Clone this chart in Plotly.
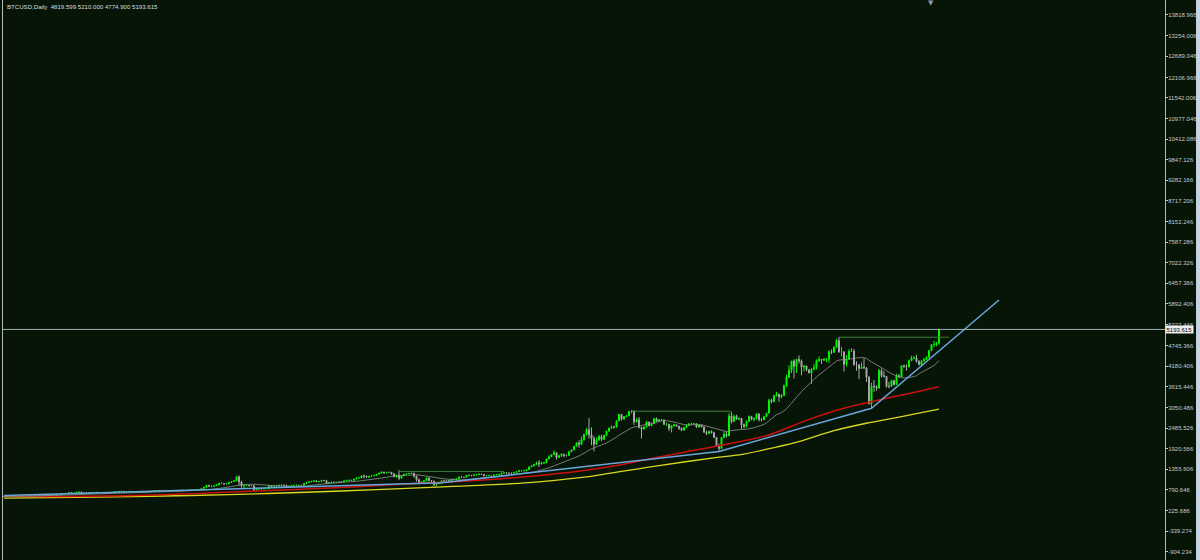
import pandas as pd
import plotly.graph_objects as go

# ---------------- data ----------------
SYMBOL = "BTCUSD,Daily"
START_DATE = "2016-10-03"
FIRST_OPEN = 610.0

C_2016_10 = [612, 609, 612, 612, 617, 619, 617, 618, 641, 637, 636, 638, 637, 641, 638, 637, 630, 629, 632, 657, 652, 652, 654, 678, 686, 689, 714, 699, 700]
H_2016_10 = [614, 613, 613, 613, 619, 621, 620, 620, 643, 642, 638, 641, 641, 642, 642, 639, 638, 632, 633, 660, 660, 655, 657, 680, 688, 690, 720, 716, 705]
L_2016_10 = [608, 607, 607, 609, 610, 616, 615, 616, 616, 632, 634, 634, 636, 636, 637, 635, 628, 626, 629, 631, 649, 648, 650, 652, 676, 682, 689, 694, 691]

C_2016_11 = [729, 734, 687, 704, 703, 712, 706, 710, 722, 715, 716, 705, 702, 706, 711, 744, 740, 751, 751, 731, 739, 751, 741, 735, 736, 728, 729, 734, 732, 742]
H_2016_11 = [737, 741, 743, 705, 707, 715, 713, 713, 740, 722, 719, 717, 706, 707, 715, 747, 750, 756, 756, 751, 740, 752, 751, 741, 740, 737, 734, 735, 737, 743]
L_2016_11 = [700, 726, 681, 686, 699, 698, 702, 702, 705, 708, 713, 704, 680, 699, 704, 711, 730, 739, 738, 727, 730, 737, 734, 732, 731, 722, 726, 726, 728, 729]

C_2016_12 = [754, 771, 765, 768, 759, 764, 768, 770, 772, 774, 769, 780, 780, 778, 775, 784, 790, 790, 792, 800, 834, 864, 921, 892, 891, 907, 933, 975, 973, 961, 963]
H_2016_12 = [758, 773, 773, 769, 768, 764, 770, 774, 772, 776, 774, 780, 789, 782, 779, 785, 791, 795, 793, 801, 834, 875, 923, 922, 899, 909, 939, 976, 977, 973, 964]
L_2016_12 = [742, 752, 763, 762, 754, 756, 764, 766, 768, 770, 766, 770, 775, 776, 773, 775, 784, 787, 788, 790, 799, 833, 864, 885, 862, 896, 905, 934, 966, 927, 946]

C_2017_01 = [998, 1021, 1043, 1154, 1013, 902, 908, 911, 902, 907, 785, 812, 826, 819, 822, 831, 907, 886, 899, 896, 923, 925, 921, 892, 895, 915, 919, 921, 914, 921, 970]
H_2017_01 = [1002, 1032, 1045, 1159, 1191, 1046, 909, 937, 913, 913, 912, 826, 834, 829, 823, 831, 909, 912, 904, 899, 927, 938, 924, 924, 898, 916, 923, 923, 922, 923, 970]
L_2017_01 = [956, 995, 1018, 1044, 910, 852, 825, 904, 895, 903, 774, 756, 805, 814, 817, 820, 830, 867, 884, 887, 896, 887, 915, 888, 890, 894, 907, 916, 911, 908, 921]

C_2017_02 = [989, 1011, 1029, 1042, 1015, 1025, 1051, 1047, 978, 996, 1006, 1001, 994, 1012, 1010, 1038, 1055, 1056, 1053, 1089, 1118, 1121, 1177, 1173, 1144, 1165, 1180, 1190]
H_2017_02 = [990, 1013, 1034, 1046, 1043, 1027, 1058, 1068, 1067, 1001, 1009, 1008, 1001, 1013, 1014, 1043, 1061, 1066, 1060, 1093, 1126, 1131, 1184, 1208, 1173, 1167, 1190, 1194]
L_2017_02 = [968, 985, 1008, 1016, 1009, 1015, 1024, 1030, 946, 950, 990, 998, 988, 993, 1003, 1010, 1035, 1050, 1045, 1049, 1089, 1113, 1123, 1111, 1129, 1122, 1165, 1170]

C_2017_03 = [1222, 1252, 1285, 1265, 1273, 1276, 1233, 1151, 1196, 1112, 1180, 1226, 1238, 1244, 1253, 1173, 1072, 971, 1018, 1047, 1123, 1049, 1038, 937, 972, 966, 1045, 1044, 1041, 1037, 1079]
H_2017_03 = [1222, 1262, 1290, 1281, 1275, 1280, 1282, 1246, 1205, 1329, 1200, 1229, 1248, 1257, 1260, 1263, 1175, 1103, 1028, 1054, 1127, 1126, 1051, 1039, 973, 1013, 1050, 1059, 1048, 1055, 1087]
L_2017_03 = [1180, 1215, 1238, 1230, 1243, 1266, 1205, 1151, 1130, 1060, 1112, 1179, 1220, 1231, 1245, 1131, 1020, 943, 966, 1010, 1045, 1024, 1008, 892, 897, 956, 965, 1017, 1026, 1022, 1040]

C_2017_04 = [1087, 1099, 1147, 1139, 1136, 1196, 1191, 1183, 1206, 1208, 1226, 1219, 1180, 1185, 1187, 1187, 1204, 1212, 1219, 1253, 1260, 1257, 1250, 1250, 1266, 1291, 1317, 1317, 1321, 1347]
H_2017_04 = [1091, 1106, 1148, 1162, 1142, 1197, 1198, 1194, 1208, 1212, 1228, 1226, 1220, 1190, 1196, 1193, 1206, 1216, 1223, 1261, 1267, 1266, 1262, 1253, 1267, 1294, 1331, 1341, 1327, 1349]
L_2017_04 = [1071, 1086, 1099, 1131, 1123, 1135, 1175, 1167, 1181, 1201, 1205, 1210, 1164, 1171, 1184, 1180, 1184, 1203, 1209, 1218, 1247, 1242, 1245, 1239, 1251, 1267, 1292, 1294, 1311, 1317]

C_2017_05 = [1421, 1452, 1490, 1538, 1508, 1535, 1536, 1641, 1700, 1756, 1808, 1679, 1728, 1772, 1739, 1734, 1840, 1889, 1988, 2084, 2041, 2173, 2320, 2443, 2305, 2203, 2039, 2155, 2256, 2175, 2286]
H_2017_05 = [1435, 1475, 1494, 1569, 1609, 1563, 1560, 1651, 1740, 1773, 1874, 1821, 1758, 1800, 1776, 1757, 1850, 1898, 1998, 2090, 2150, 2258, 2330, 2493, 2760, 2505, 2265, 2229, 2301, 2301, 2311]
L_2017_05 = [1347, 1420, 1432, 1489, 1421, 1488, 1500, 1535, 1640, 1691, 1755, 1620, 1680, 1694, 1683, 1707, 1723, 1824, 1879, 1980, 1950, 2057, 2140, 2279, 2200, 2015, 1850, 2030, 2152, 2130, 2183]

C_2017_06 = [2407, 2489, 2515, 2511, 2686, 2863, 2732, 2805, 2824, 2947, 2958, 2659, 2717, 2507, 2465, 2519, 2655, 2549, 2608, 2750, 2677, 2715, 2711, 2589, 2590, 2478, 2553, 2575, 2539, 2480]
H_2017_06 = [2409, 2495, 2560, 2549, 2694, 2880, 2869, 2815, 2833, 2950, 2983, 2963, 2767, 2791, 2510, 2530, 2685, 2654, 2612, 2762, 2777, 2735, 2737, 2722, 2639, 2609, 2557, 2609, 2582, 2549]
L_2017_06 = [2269, 2381, 2458, 2472, 2511, 2693, 2690, 2735, 2788, 2816, 2888, 2575, 2632, 2480, 2200, 2439, 2506, 2542, 2547, 2601, 2645, 2652, 2706, 2576, 2548, 2402, 2369, 2523, 2536, 2434]

C_2017_07 = [2434, 2507, 2564, 2601, 2601, 2608, 2518, 2571, 2518, 2373, 2337, 2398, 2357, 2233, 1998, 1929, 2229, 2319, 2273, 2818, 2668, 2810, 2730, 2754, 2576, 2529, 2671, 2809, 2726, 2758, 2875]
H_2017_07 = [2503, 2519, 2595, 2621, 2622, 2616, 2616, 2580, 2571, 2532, 2419, 2415, 2425, 2386, 2232, 2059, 2238, 2396, 2398, 2900, 2925, 2860, 2851, 2779, 2757, 2608, 2693, 2832, 2811, 2759, 2886]
L_2017_07 = [2407, 2415, 2495, 2582, 2574, 2597, 2499, 2499, 2510, 2370, 2294, 2345, 2340, 2213, 1975, 1843, 1928, 2215, 2225, 2270, 2616, 2656, 2712, 2716, 2468, 2480, 2508, 2665, 2700, 2674, 2721]

C_2017_08 = [2718, 2710, 2804, 2895, 3252, 3213, 3378, 3419, 3342, 3381, 3650, 3884, 4073, 4325, 4181, 4376, 4331, 4160, 4193, 4087, 4001, 4100, 4151, 4334, 4371, 4352, 4382, 4382, 4579, 4565, 4703]
H_2017_08 = [2897, 2761, 2820, 2899, 3291, 3291, 3397, 3480, 3426, 3423, 3679, 3950, 4208, 4330, 4371, 4380, 4480, 4370, 4211, 4194, 4096, 4136, 4255, 4371, 4453, 4374, 4404, 4384, 4626, 4645, 4736]
L_2017_08 = [2668, 2669, 2720, 2796, 2892, 3164, 3199, 3350, 3210, 3300, 3394, 3614, 3869, 3999, 3848, 3998, 4261, 3938, 4041, 4041, 3989, 3700, 4085, 4093, 4308, 4247, 4323, 4300, 4282, 4516, 4554]

C_2017_09 = [4892, 4579, 4582, 4236, 4376, 4597, 4599, 4228, 4226, 4122, 4161, 4130, 3882, 3154, 3637, 3625, 3582, 4065, 3924, 3905, 3631, 3630, 3792, 3682, 3926, 3892, 4200, 4174, 4163, 4338]
H_2017_09 = [4939, 4980, 4715, 4578, 4491, 4655, 4682, 4655, 4322, 4241, 4290, 4394, 4161, 3920, 3733, 3809, 3658, 4110, 4119, 4050, 3912, 3753, 3813, 3796, 3976, 3963, 4214, 4229, 4237, 4362]
L_2017_09 = [4701, 4555, 4453, 4040, 4180, 4373, 4571, 4201, 4060, 3830, 4117, 4132, 3753, 3138, 3010, 3477, 3510, 3578, 3875, 3877, 3597, 3578, 3630, 3657, 3674, 3870, 3892, 4142, 4063, 4163]

C_2017_10 = [4403, 4409, 4317, 4229, 4328, 4370, 4426, 4610, 4772, 4781, 4819.599, 5193.615]
H_2017_10 = [4470, 4470, 4497, 4351, 4355, 4414, 4459, 4627, 4782, 4875, 4854, 5210.000]
L_2017_10 = [4320, 4377, 4281, 4205, 4193, 4320, 4351, 4426, 4609, 4716, 4730, 4774.900]

# moving average of the thin grey line (period in days)
FAST_MA_PERIOD = 20

# red moving average, read at sampled dates
RED_DATES = ["2016-10-03", "2016-10-20", "2016-11-05", "2016-11-20", "2016-12-05", "2016-12-20",
             "2017-01-05", "2017-01-20", "2017-02-05", "2017-02-20", "2017-03-05", "2017-03-20",
             "2017-04-05", "2017-04-20", "2017-05-05", "2017-05-20", "2017-06-05", "2017-06-20",
             "2017-07-05", "2017-07-20", "2017-08-05", "2017-08-20", "2017-09-05", "2017-09-20",
             "2017-10-05", "2017-10-12"]
RED_VALUES = [615, 612, 615, 632, 662, 695, 740, 782, 828, 872, 925, 978,
              1030, 1100, 1185, 1295, 1460, 1665, 1865, 2055, 2300, 2700, 3050, 3290,
              3510, 3620]

# yellow moving average, read at sampled dates
YELLOW_DATES = ["2016-10-03", "2016-11-01", "2016-12-01", "2017-01-01", "2017-02-01", "2017-03-01",
                "2017-03-25", "2017-04-28", "2017-05-24", "2017-06-20", "2017-07-16", "2017-07-24",
                "2017-08-15", "2017-08-31", "2017-09-13", "2017-09-26", "2017-10-12"]
YELLOW_VALUES = [565, 588, 618, 662, 728, 798, 868, 975, 1150, 1440, 1690, 1750,
                 2080, 2420, 2620, 2790, 3005]

# blue trend line anchor points
TREND_DATES = ["2016-10-03", "2017-03-27", "2017-07-16", "2017-09-15", "2017-11-05"]
TREND_VALUES = [640, 985, 1845, 3030, 6000]

# horizontal drawn levels: (start, end, price)
LEVEL_STARTS = ["2017-03-10", "2017-06-11", "2017-09-02"]
LEVEL_ENDS = ["2017-04-21", "2017-07-21", "2017-10-16"]
LEVEL_PRICES = [1300, 2950, 4980]

# price axis labels
TICK_LABELS = ["13818.966", "13254.006", "12689.046", "12106.966", "11542.006", "10977.046",
               "10412.086", "9847.126", "9282.166", "8717.206", "8152.246", "7587.286",
               "7022.326", "6457.366", "5892.406", "5327.446", "4745.366", "4180.406",
               "3615.446", "3050.486", "2485.526", "1920.566", "1355.606", "790.646",
               "225.686", "-339.274", "-904.234"]

Y_RANGE = [-1131, 14230]
X_RANGE = ["2016-10-02 14:24", "2018-01-10 09:36"]

# ---------------- assemble ----------------
closes = (C_2016_10 + C_2016_11 + C_2016_12 + C_2017_01 + C_2017_02 + C_2017_03 + C_2017_04 +
          C_2017_05 + C_2017_06 + C_2017_07 + C_2017_08 + C_2017_09 + C_2017_10)
highs = (H_2016_10 + H_2016_11 + H_2016_12 + H_2017_01 + H_2017_02 + H_2017_03 + H_2017_04 +
         H_2017_05 + H_2017_06 + H_2017_07 + H_2017_08 + H_2017_09 + H_2017_10)
lows = (L_2016_10 + L_2016_11 + L_2016_12 + L_2017_01 + L_2017_02 + L_2017_03 + L_2017_04 +
        L_2017_05 + L_2017_06 + L_2017_07 + L_2017_08 + L_2017_09 + L_2017_10)
opens = [FIRST_OPEN] + closes[:-1]
dates = pd.date_range(START_DATE, periods=len(closes), freq="D")

fast_ma = pd.Series(closes, index=dates).rolling(FAST_MA_PERIOD, min_periods=1).mean()

BG = "#071507"
BULL = "#00fa00"
BEAR = "#a9a9a9"
TXT = "#c8c8c8"

fig = go.Figure()

fig.add_trace(go.Scatter(x=YELLOW_DATES, y=YELLOW_VALUES, mode="lines",
                         line=dict(color="#d8d820", width=1.3, shape="spline", smoothing=0.6),
                         hoverinfo="skip"))
fig.add_trace(go.Scatter(x=RED_DATES, y=RED_VALUES, mode="lines",
                         line=dict(color="#cc1010", width=1.5, shape="spline", smoothing=0.6),
                         hoverinfo="skip"))
fig.add_trace(go.Candlestick(
    x=dates, open=opens, high=highs, low=lows, close=closes,
    increasing=dict(line=dict(color=BULL, width=1), fillcolor=BULL),
    decreasing=dict(line=dict(color=BEAR, width=1), fillcolor=BEAR),
    whiskerwidth=0, hoverinfo="skip"))
fig.add_trace(go.Scatter(x=dates, y=fast_ma, mode="lines",
                         line=dict(color="#8e968e", width=0.8), hoverinfo="skip"))
fig.add_trace(go.Scatter(x=TREND_DATES, y=TREND_VALUES, mode="lines",
                         line=dict(color="#6aa6dc", width=1.5), hoverinfo="skip"))
for s, e, p in zip(LEVEL_STARTS, LEVEL_ENDS, LEVEL_PRICES):
    fig.add_trace(go.Scatter(x=[s, e], y=[p, p], mode="lines",
                             line=dict(color="#3f7f3a", width=1), hoverinfo="skip"))

last_o, last_h, last_l, last_c = opens[-1], highs[-1], lows[-1], closes[-1]

shapes = [
    # current price line
    dict(type="line", xref="paper", yref="y", x0=0, x1=1, y0=last_c, y1=last_c,
         line=dict(color="#9fb2b2", width=1)),
    # window edge strip on the right
    dict(type="rect", xref="paper", yref="paper", x0=1.0267, x1=1.05, y0=0, y1=1,
         fillcolor="#c4d4e4", line=dict(width=0), layer="above"),
]

annotations = [
    dict(text=f"{SYMBOL}  {last_o:.3f} {last_h:.3f} {last_l:.3f} {last_c:.3f}",
         xref="paper", yref="paper", x=0.0017, y=1, xanchor="left", yanchor="top",
         yshift=-1, showarrow=False,
         font=dict(family="Liberation Sans", size=6.1, color="#dcdcdc")),
    dict(text=f"{last_c:.3f}", xref="paper", yref="y", x=1, y=last_c,
         xanchor="left", yanchor="middle", showarrow=False, bgcolor="#eeeeee",
         borderpad=0.5, font=dict(family="Liberation Sans", size=6.0, color="#000000")),
    dict(text="▼", xref="paper", yref="paper", x=(931 - 3) / 1162, y=1,
         xanchor="center", yanchor="top", yshift=3, showarrow=False,
         font=dict(family="DejaVu Sans", size=7, color="#8a9aa0")),
]

fig.update_layout(
    width=1200, height=560, autosize=False,
    margin=dict(l=3, r=35, t=0, b=0, pad=0),
    paper_bgcolor=BG, plot_bgcolor=BG,
    showlegend=False, boxgap=0.45, hovermode=False,
    shapes=shapes, annotations=annotations,
    xaxis=dict(type="date", range=X_RANGE, showticklabels=False, showgrid=False,
               zeroline=False, showline=False, ticks="", rangeslider=dict(visible=False)),
    yaxis=dict(side="right", range=Y_RANGE, tickmode="array",
               tickvals=[float(t) for t in TICK_LABELS], ticktext=TICK_LABELS,
               ticks="outside", ticklen=2, tickcolor=TXT, tickwidth=1,
               ticklabelstandoff=-1,
               tickfont=dict(family="Liberation Sans", size=6.0, color=TXT),
               showgrid=False, zeroline=False, showline=True, linecolor="#b8b8b8",
               linewidth=1, mirror=True),
)

fig.write_html("out.html")
